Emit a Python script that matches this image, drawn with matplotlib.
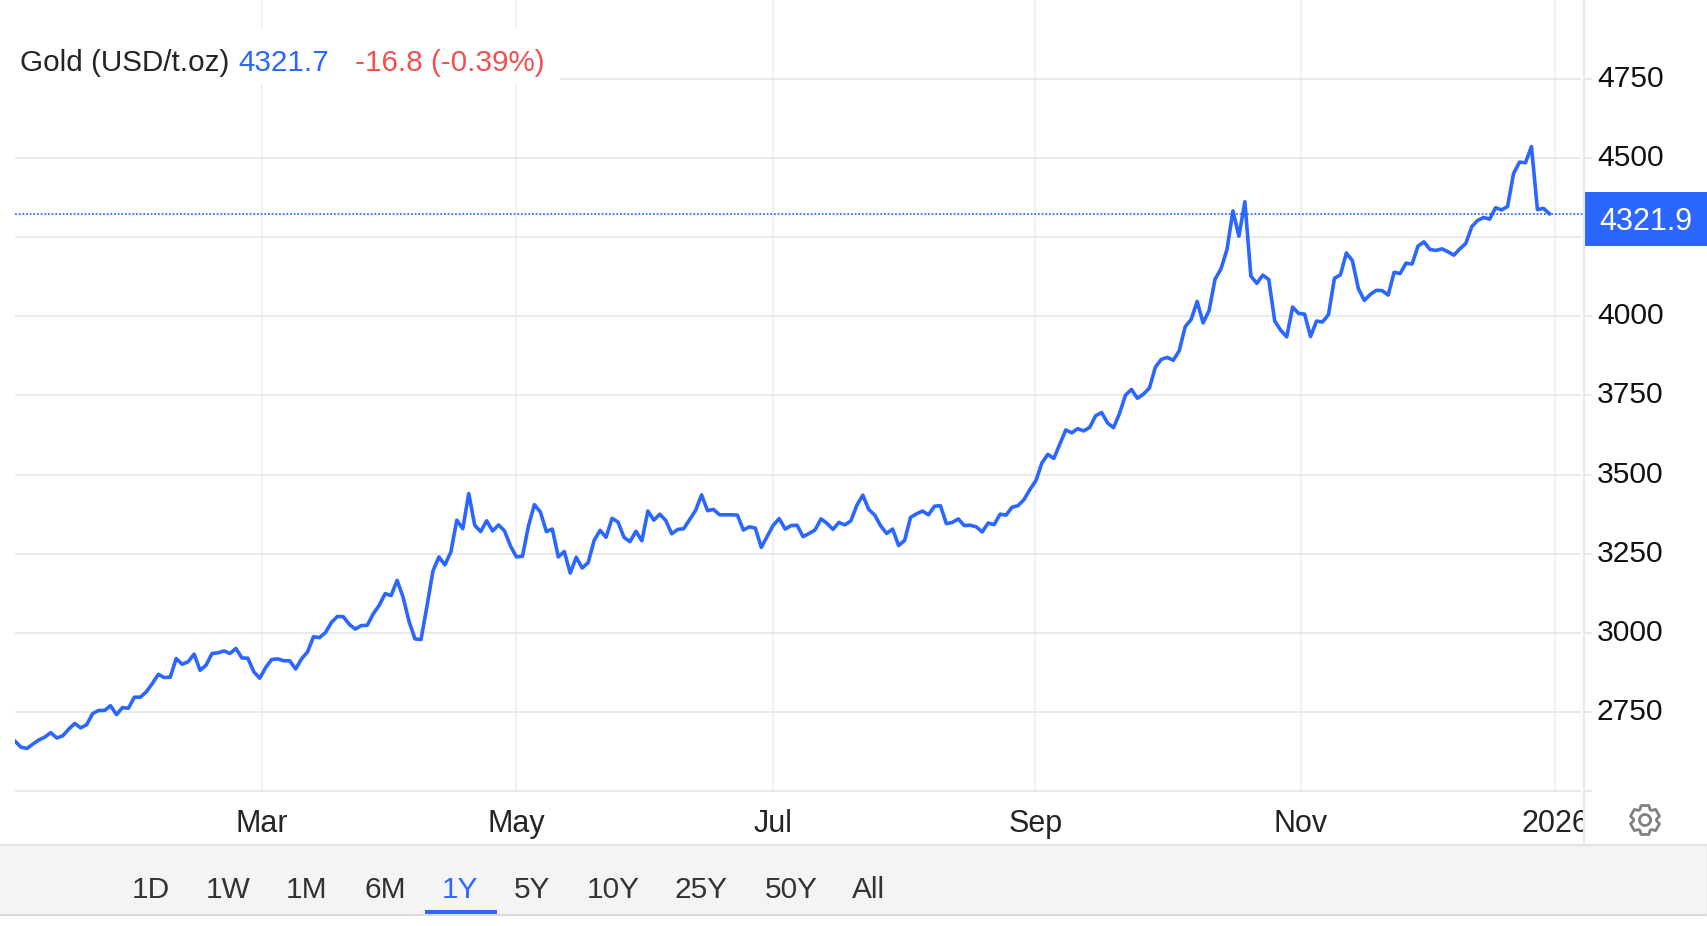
import numpy as np
import matplotlib
matplotlib.use('Agg')
import matplotlib.pyplot as plt
from matplotlib.lines import Line2D
from matplotlib.patches import Polygon, Rectangle
from matplotlib.transforms import Bbox, ScaledTranslation

W, H = 1708, 926

# daily close
prices = [
    2658, 2639, 2635, 2649, 2662, 2671, 2685, 2668, 2675, 2696,
    2714, 2700, 2710, 2745, 2755, 2755, 2770, 2742, 2764, 2762,
    2797, 2797, 2814, 2840, 2869, 2859, 2860, 2919, 2901, 2909,
    2933, 2882, 2898, 2935, 2937, 2943, 2935, 2951, 2921, 2920,
    2877, 2857, 2891, 2916, 2918, 2912, 2912, 2886, 2918, 2940,
    2988, 2985, 3001, 3033, 3052, 3051, 3027, 3012, 3023, 3024,
    3060, 3087, 3124, 3118, 3166, 3113, 3036, 2981, 2979, 3084,
    3195, 3240, 3215, 3255, 3356, 3329, 3440, 3340, 3320, 3354,
    3322, 3341, 3322, 3274, 3240, 3242, 3338, 3405, 3382, 3320,
    3328, 3240, 3257, 3189, 3239, 3205, 3222, 3292, 3324, 3302,
    3362, 3350, 3302, 3288, 3321, 3291, 3385, 3356, 3375, 3355,
    3313, 3327, 3329, 3358, 3387, 3436, 3386, 3390, 3373, 3373,
    3373, 3372, 3325, 3335, 3331, 3270, 3305, 3340, 3361, 3328,
    3339, 3340, 3304, 3314, 3325, 3360, 3346, 3327, 3349, 3341,
    3354, 3403, 3435, 3390, 3372, 3338, 3314, 3328, 3276, 3292,
    3365, 3376, 3385, 3373, 3400, 3402, 3345, 3349, 3360, 3339,
    3340, 3335, 3319, 3347, 3342, 3375, 3372, 3397, 3402, 3421,
    3453, 3481, 3537, 3564, 3551, 3596, 3641, 3632, 3645, 3638,
    3649, 3686, 3696, 3663, 3648, 3693, 3751, 3769, 3741, 3754,
    3773, 3839, 3864, 3870, 3861, 3891, 3967, 3990, 4047, 3979,
    4018, 4117, 4150, 4211, 4333, 4253, 4362, 4127, 4104, 4130,
    4116, 3985, 3956, 3935, 4029, 4009, 4007, 3936, 3985, 3982,
    4005, 4120, 4131, 4200, 4176, 4088, 4050, 4069, 4082, 4081,
    4067, 4139, 4135, 4168, 4165, 4222, 4235, 4211, 4208, 4213,
    4204, 4193, 4213, 4230, 4283, 4303, 4312, 4307, 4343, 4336,
    4347, 4451, 4487, 4485, 4536, 4337, 4341, 4324,
]
last_price = 4321.9

month_pos = [41.3, 83.9, 127, 170.9, 215.4, 258]
month_labels = ['Mar', 'May', 'Jul', 'Sep', 'Nov', '2026']
y_ticks = [2500, 2750, 3000, 3250, 3500, 3750, 4000, 4250, 4500, 4750]
# 4250 sits behind the price tag in the original
y_labels = ['', '2750', '3000', '3250', '3500', '3750', '4000', '', '4500', '4750']

ranges = ['1D', '1W', '1M', '6M', '1Y', '5Y', '10Y', '25Y', '50Y', 'All']
range_x = [151, 228, 307, 385, 460.5, 532.5, 613.5, 701.5, 791, 869]

BLUE = '#2b66ff'
GRID = '#e6e6e6'
VGRID = '#eef2f6'
DARK = '#222426'

plt.rcParams['font.family'] = ['Liberation Sans', 'DejaVu Sans']


def fx(px):
    return px / W


def fy(py):
    return 1 - py / H


def px_rect(x0, y0, x1, y1, **kw):
    return Rectangle((fx(x0), fy(y1)), (x1 - x0) / W, (y1 - y0) / H,
                     transform=plt.gcf().transFigure, **kw)


fig = plt.figure(figsize=(W / 100, H / 100), dpi=100, facecolor='white')

bottom = 791.2
ax = fig.add_axes([fx(15), fy(bottom), (1584 - 15) / W, bottom / H])
ax.set_xlim(0, 262.8)
ax.set_ylim(2500, 4999)
for s in ax.spines.values():
    s.set_visible(False)

ax.set_xticks(month_pos)
ax.set_xticklabels(month_labels)
ax.xaxis.grid(True, color=VGRID, lw=1.4)
ax.set_axisbelow(True)
ax.tick_params(axis='x', length=0, pad=13, labelsize=22, labelcolor=DARK)

ax.yaxis.tick_right()
ax.set_yticks(y_ticks)
ax.set_yticklabels(y_labels)
ax.tick_params(axis='y', length=5.8, width=1.2, color=GRID, pad=3.5,
               labelsize=21.6, labelcolor='#111111')
# labels ride slightly above their gridlines
up = ScaledTranslation(0, 3 / 100, fig.dpi_scale_trans)
for lab in ax.get_yticklabels():
    lab.set_transform(lab.get_transform() + up)

# horizontal lines stop a bit short of the price scale
ax.hlines(y_ticks, 0, 262.3, color=GRID, lw=1.2, zorder=1, clip_on=False)
ax.axhline(last_price, color=BLUE, lw=1.2, ls=(0, (1.1, 1.1)), zorder=2)
ax.plot(np.arange(len(prices)), prices, color=BLUE, lw=2.6, zorder=3,
        solid_joinstyle='round')

# 2026 gets cut by the price scale
for lab in ax.get_xticklabels():
    lab.set_clip_box(Bbox([[0, 0], [1584, H]]))
    lab.set_clip_on(True)

# price scale border
fig.add_artist(Line2D([fx(1584), fx(1584)], [fy(0), fy(845)], color='#e8e8e8', lw=1.5,
                      transform=fig.transFigure))

# header, sits on a white patch that hides the grid
fig.add_artist(px_rect(15, 29, 560, 84, fc='white', ec='none'))
fig.text(fx(20), fy(71), 'Gold (USD/t.oz)', fontsize=21.3, color=DARK, va='baseline')
fig.text(fx(238), fy(71), '4321.7', fontsize=21.3, color=BLUE, va='baseline')
fig.text(fx(355), fy(71), '-16.8 (-0.39%)', fontsize=21.3, color='#f24f4f', va='baseline')

# current price tag
fig.add_artist(px_rect(1585, 192, W, 245.7, fc=BLUE, ec='none'))
fig.text(fx(1646), fy(222), '4321.9', fontsize=22, color='white', ha='center', va='center')

# range selector
fig.add_artist(px_rect(0, 845, 1707, 915, fc='#f4f4f4', ec='none'))
fig.add_artist(Line2D([0, fx(1707)], [fy(845), fy(845)], color='#e4e4e4', lw=1.5,
                      transform=fig.transFigure))
fig.add_artist(Line2D([0, fx(1707)], [fy(915), fy(915)], color='#dadada', lw=1.5,
                      transform=fig.transFigure))
fig.add_artist(Line2D([fx(1707), fx(1707)], [fy(845), fy(915)], color='#e4e4e4', lw=1,
                      transform=fig.transFigure))
for name, x in zip(ranges, range_x):
    fig.text(fx(x), fy(890), name, fontsize=21.5, ha='center', va='center',
             color=BLUE if name == '1Y' else '#333333')
fig.add_artist(px_rect(425, 910, 497, 914, fc=BLUE, ec='none'))

# settings gear
angles = np.linspace(0, 2 * np.pi, 6, endpoint=False) + np.pi / 6
gear = []
for a in angles:
    step = np.pi / 6
    for off, r in [(-0.62, 11.5), (-0.36, 15), (0.36, 15), (0.62, 11.5)]:
        gear.append((fx(1645 + r * np.cos(a + off * step * 1.4)),
                     fy(820 + r * np.sin(a + off * step * 1.4))))
fig.add_artist(Polygon(gear, closed=True, fc='none', ec='#808080', lw=2,
                       joinstyle='round', transform=fig.transFigure))
ring = np.linspace(0, 2 * np.pi, 40)
fig.add_artist(Line2D(fx(1645 + 5.5 * np.cos(ring)), fy(820 + 5.5 * np.sin(ring)),
                      color='#808080', lw=2, transform=fig.transFigure))

fig.savefig('out.png', dpi=100)
